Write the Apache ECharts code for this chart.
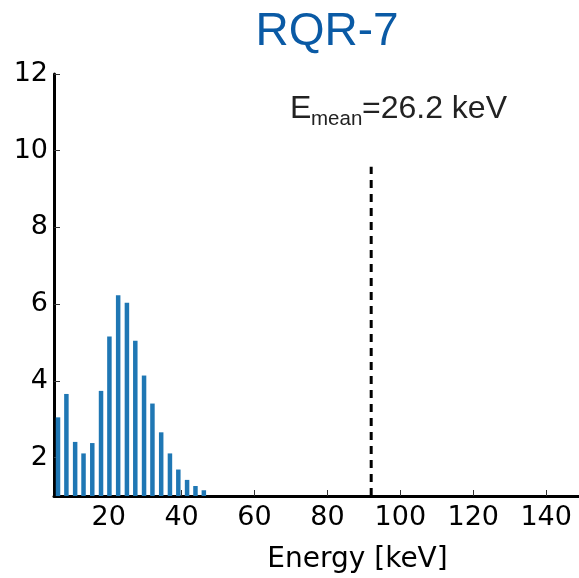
<!DOCTYPE html>
<html>
<head>
<meta charset="utf-8">
<script src="https://cdn.jsdelivr.net/npm/echarts@6/dist/echarts.min.js"></script>
<style>html,body{margin:0;padding:0;background:#fff}#c{width:579px;height:578px}</style>
</head>
<body>
<div id="c"></div>
<script>
// Data
const energies = [6.1, 8.4, 10.8, 13.1, 15.5, 17.9, 20.2, 22.6, 25.0, 27.3, 29.7, 32.0, 34.4, 36.8, 39.1, 41.5, 43.8, 46.1];
const counts   = [3.05, 3.66, 2.41, 2.11, 2.38, 3.74, 5.16, 6.23, 6.04, 5.05, 4.14, 3.41, 2.66, 2.11, 1.69, 1.42, 1.26, 1.15];
const xTicks = [20, 40, 60, 80, 100, 120, 140];
const yTicks = [2, 4, 6, 8, 10, 12];
const markerX = 92;
const markerTop = 9.58;
const titleText = 'RQR-7';
const meanLabel = '=26.2 keV';

const chart = echarts.init(document.getElementById('c'));
const tickFont = {fontFamily: 'DejaVu Sans', fontSize: 27, color: '#000'};
chart.setOption({
  animation: false,
  grid: {left: 54, right: 0, top: 74, bottom: 82, containLabel: false, outerBoundsMode: 'none'},
  xAxis: {
    type: 'value', min: 5, max: 149,
    name: 'Energy [keV]', nameLocation: 'middle', nameGap: 50,
    nameTextStyle: {fontFamily: 'DejaVu Sans', fontSize: 28, color: '#000', padding: [0, 0, 0, 82]},
    axisLine: {show: true, onZero: false, lineStyle: {color: '#000', width: 3}},
    axisTick: {show: true, inside: true, length: 6, lineStyle: {color: '#333', width: 1}, customValues: xTicks},
    axisLabel: {...tickFont, margin: 8, customValues: xTicks},
    splitLine: {show: false}
  },
  yAxis: {
    type: 'value', min: 1, max: 12,
    axisLine: {show: true, onZero: false, lineStyle: {color: '#000', width: 3}},
    axisTick: {show: true, inside: true, length: 6, lineStyle: {color: '#333', width: 1}, customValues: yTicks},
    axisLabel: {...tickFont, margin: 6, customValues: yTicks},
    splitLine: {show: false}
  },
  series: [
    {
      type: 'bar', barWidth: 4.5, clip: true,
      itemStyle: {color: '#1f77b4'},
      data: energies.map((e, i) => [e, counts[i]])
    },
    {
      type: 'line', symbol: 'none', silent: true,
      lineStyle: {color: '#000', width: 3, type: [8, 6]},
      data: [[markerX, 1], [markerX, markerTop]]
    }
  ],
  graphic: [
    {type: 'text', style: {text: titleText, x: 327, y: 32, textAlign: 'center', textVerticalAlign: 'middle',
      fontFamily: 'Liberation Sans', fontSize: 46, fill: '#0a5aa5'}},
    {type: 'text', style: {text: 'E', x: 290, y: 109, textAlign: 'left', textVerticalAlign: 'middle',
      fontFamily: 'Liberation Sans', fontSize: 32, fill: '#222'}},
    {type: 'text', style: {text: 'mean', x: 311, y: 119, textAlign: 'left', textVerticalAlign: 'middle',
      fontFamily: 'Liberation Sans', fontSize: 20.5, fill: '#222'}},
    {type: 'text', style: {text: meanLabel, x: 362, y: 109, textAlign: 'left', textVerticalAlign: 'middle',
      fontFamily: 'Liberation Sans', fontSize: 32, fill: '#222'}}
  ]
});
</script>
</body>
</html>
